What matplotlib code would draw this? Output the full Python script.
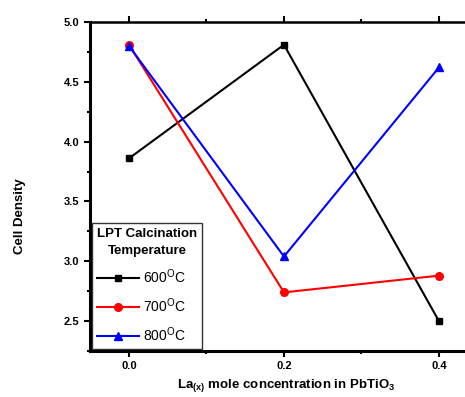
import matplotlib
matplotlib.use("Agg")
import matplotlib.pyplot as plt
from matplotlib.ticker import MultipleLocator

x_vals = [0.0, 0.2, 0.4]
t600 = [3.86, 4.81, 2.50]
t700 = [4.81, 2.74, 2.88]
t800 = [4.80, 3.04, 4.62]
labels = [r"600$^{\mathrm{O}}$C", r"700$^{\mathrm{O}}$C", r"800$^{\mathrm{O}}$C"]

plt.rcParams['font.family'] = ['Liberation Sans', 'DejaVu Sans']
plt.rcParams['mathtext.fontset'] = 'custom'
plt.rcParams['mathtext.rm'] = 'Liberation Sans'
plt.rcParams['mathtext.bf'] = 'Liberation Sans:bold'

fig = plt.figure(figsize=(4.65, 3.97), dpi=100)
ax = fig.add_axes([90/465, 1-351/397, 390/465, (351-22)/397])

ax.plot(x_vals, t600, color='black', marker='s', markersize=5, lw=1.5, label=labels[0])
ax.plot(x_vals, t700, color='red', marker='o', markersize=5.5, lw=1.5, label=labels[1])
ax.plot(x_vals, t800, color='blue', marker='^', markersize=6, lw=1.5, label=labels[2])

ax.set_xlim(-0.0503, 0.453)
ax.set_ylim(2.25, 5.0)
ax.xaxis.set_major_locator(MultipleLocator(0.2))
ax.xaxis.set_minor_locator(MultipleLocator(0.1))
ax.yaxis.set_major_locator(MultipleLocator(0.5))
ax.yaxis.set_minor_locator(MultipleLocator(0.25))
ax.xaxis.set_major_formatter(matplotlib.ticker.FormatStrFormatter('%.1f'))
ax.yaxis.set_major_formatter(matplotlib.ticker.FormatStrFormatter('%.1f'))

for sp in ['left', 'bottom']:
    ax.spines[sp].set_linewidth(2.2)
ax.spines['top'].set_linewidth(1.8)
ax.spines['right'].set_visible(False)

ax.tick_params(axis='both', which='major', direction='out', length=4, width=1.5, labelsize=8)
ax.tick_params(axis='both', which='minor', direction='out', length=2.5, width=1.5)
ax.tick_params(axis='x', which='both', top=True)
for lab in ax.get_xticklabels() + ax.get_yticklabels():
    lab.set_fontweight('bold')

ax.set_ylabel('Cell Density', fontsize=9.5, fontweight='bold')
ax.yaxis.set_label_coords(-0.165, 0.41)
ax.set_xlabel(r'La$_{\mathbf{(x)}}$ mole concentration in PbTiO$_{\mathbf{3}}$', fontsize=9.5,
              fontweight='bold')
ax.xaxis.set_label_coords(0.503, -0.08)

leg = ax.legend(loc='lower left', title='LPT Calcination\nTemperature', fontsize=10,
                title_fontproperties={'weight': 'bold', 'size': 9.5}, frameon=True,
                fancybox=False, edgecolor='black', borderaxespad=0.15, handlelength=3.0,
                labelspacing=0.75, handletextpad=0.3, borderpad=0.35, alignment='left')
leg.get_title().set_multialignment('center')
leg.get_title().set_linespacing(1.6)
leg.get_frame().set_linewidth(1.0)

fig.savefig('out.png', dpi=100)
